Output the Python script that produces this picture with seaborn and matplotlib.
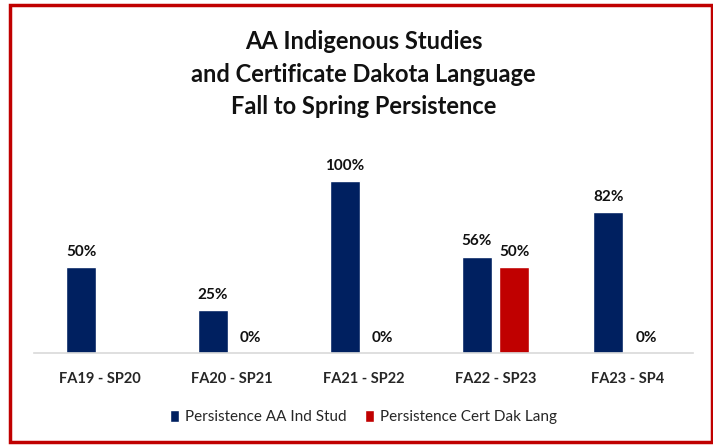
"""
Fall to spring persistence for the AA Indigenous Studies program and
the Certificate in Dakota Language, shown as grouped bars per term pair.
"""

import matplotlib.pyplot as plt
import matplotlib.patches as mpatches
import numpy as np
import pandas as pd
import seaborn as sns

# Data
terms = ['FA19 - SP20', 'FA20 - SP21', 'FA21 - SP22', 'FA22 - SP23', 'FA23 - SP4']
aa_ind_stud = [0.50, 0.25, 1.00, 0.56, 0.82]
cert_dak_lang = [np.nan, 0.00, 0.00, 0.50, 0.00]  # no cohort in FA19
series_names = ['Persistence AA Ind Stud', 'Persistence Cert Dak Lang']

NAVY = '#002060'
RED = '#C00000'

# Long format table for seaborn
df = pd.DataFrame({
    'term': terms * 2,
    'series': [series_names[0]] * len(terms) + [series_names[1]] * len(terms),
    'value': aa_ind_stud + cert_dak_lang,
}).dropna()

sns.set_style('white')
plt.rcParams['font.family'] = ['Lato', 'DejaVu Sans']

fig = plt.figure(figsize=(7.13, 4.46), dpi=100)
ax = fig.add_axes([0.0477, 0.2085, 0.9243, 0.4628])

sns.barplot(
    data=df, x='term', y='value', hue='series',
    order=terms, hue_order=series_names,
    palette=[NAVY, RED], width=0.57, gap=0.2,
    errorbar=None, saturation=1, ax=ax,
)

# Percentage labels on top of each bar
for container in ax.containers:
    ax.bar_label(container, fmt=lambda v: f'{v:.0%}', padding=6,
                 fontsize=11, fontweight='bold', color='#111111')

ax.set_ylim(0, 1.2)
ax.set_xlim(-0.5, len(terms) - 0.5)
ax.set_xlabel('')
ax.set_ylabel('')
ax.set_yticks([])
ax.tick_params(axis='x', length=0, pad=14, labelsize=10.5)
for lbl in ax.get_xticklabels():
    lbl.set_fontweight('bold')
for side in ['top', 'left', 'right']:
    ax.spines[side].set_visible(False)
ax.spines['bottom'].set_color('#D9D9D9')
ax.spines['bottom'].set_linewidth(1.2)

sns.move_legend(
    ax, 'center', bbox_to_anchor=(0.51, 0.065), bbox_transform=fig.transFigure,
    ncol=2, frameon=False, title=None, fontsize=11,
    handlelength=0.6, handleheight=0.9, handletextpad=0.4, columnspacing=1.2,
)

fig.text(0.51, 0.834,
         'AA Indigenous Studies\nand Certificate Dakota Language\nFall to Spring Persistence',
         ha='center', va='center', fontsize=17, fontweight='bold',
         linespacing=1.5, color='#111111')

# Red frame around the whole chart
fig.patches.append(mpatches.Rectangle(
    (10 / 713, 4 / 446), 702 / 713, 437 / 446,
    transform=fig.transFigure, fill=False, edgecolor=RED, linewidth=2.5,
))

plt.savefig('out.png', dpi=100)
